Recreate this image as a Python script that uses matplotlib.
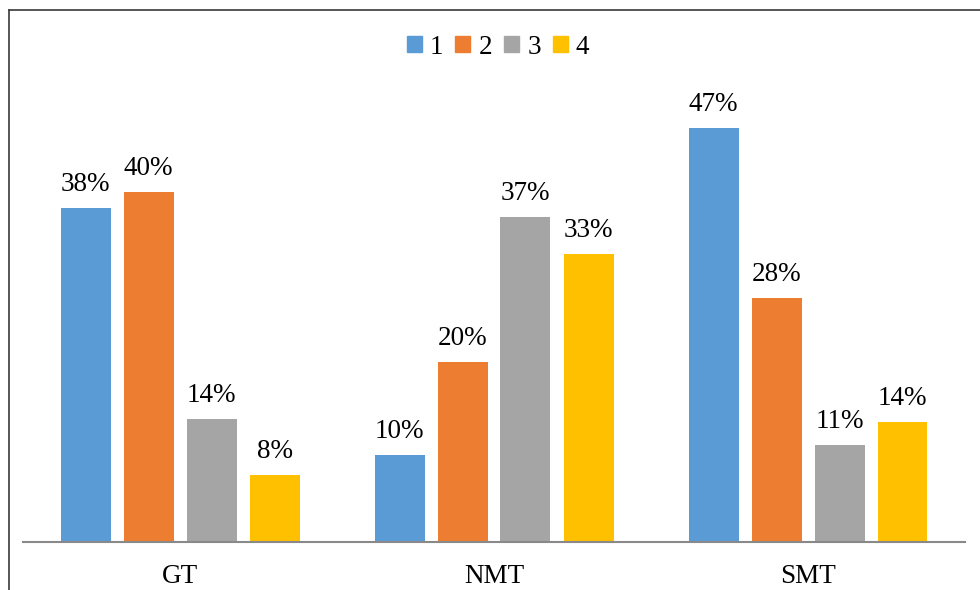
import matplotlib
matplotlib.use("Agg")
import matplotlib.pyplot as plt
from matplotlib.lines import Line2D
from matplotlib.patches import Patch
import numpy as np

categories = ["GT", "NMT", "SMT"]
series_names = ["1", "2", "3", "4"]
# values in percent (GT, NMT, SMT)
s1 = [38.0, 9.9, 47.0]
s2 = [39.8, 20.4, 27.7]
s3 = [14.0, 36.9, 11.0]
s4 = [7.6, 32.7, 13.6]
colors = ["#5B9BD5", "#ED7D31", "#A5A5A5", "#FFC000"]

plt.rcParams["font.family"] = ["Liberation Serif", "DejaVu Serif"]

W, H = 980, 590
fig = plt.figure(figsize=(W / 100, H / 100), dpi=100)
ax = fig.add_axes([23 / W, 48 / H, 942 / W, 440 / H])

x = np.arange(len(categories))
step = 63 / 314
width = 50 / 314
for j, vals in enumerate([s1, s2, s3, s4]):
    pos = x + (j - 1.5) * step
    bars = ax.bar(pos, vals, width=width, color=colors[j], label=series_names[j])
    for b, v in zip(bars, vals):
        ax.annotate(f"{v:.0f}%", (b.get_x() + b.get_width() / 2, v),
                    xytext=(0, 12.3), textcoords="offset points",
                    ha="center", va="baseline", fontsize=19.5)

ax.set_xlim(-0.5, 2.5)
ax.set_ylim(0, 50)
ax.set_yticks([])
for s in ["top", "right", "left"]:
    ax.spines[s].set_visible(False)
ax.spines["bottom"].set_color("#898989")
ax.spines["bottom"].set_linewidth(1.5)
ax.set_xticks(x)
ax.set_xticklabels(categories, fontsize=19.5)
ax.tick_params(axis="x", length=0, pad=15.5)

handles = [Patch(color=c) for c in colors]
fig.legend(handles, series_names, loc="center", bbox_to_anchor=(498 / W, 1 - 47 / H),
           ncol=4, frameon=False, fontsize=19.5, handlelength=0.55, handleheight=0.55,
           handletextpad=0.3, columnspacing=0.45, borderpad=0)

# outer frame (only top and left edges visible)
fig.add_artist(Line2D([9 / W, 1], [1 - 10 / H, 1 - 10 / H], color="#3a3a3a", lw=1.2,
                      transform=fig.transFigure))
fig.add_artist(Line2D([9 / W, 9 / W], [0, 1 - 10 / H], color="#3a3a3a", lw=1.2,
                      transform=fig.transFigure))

fig.savefig("out.png", dpi=100)
